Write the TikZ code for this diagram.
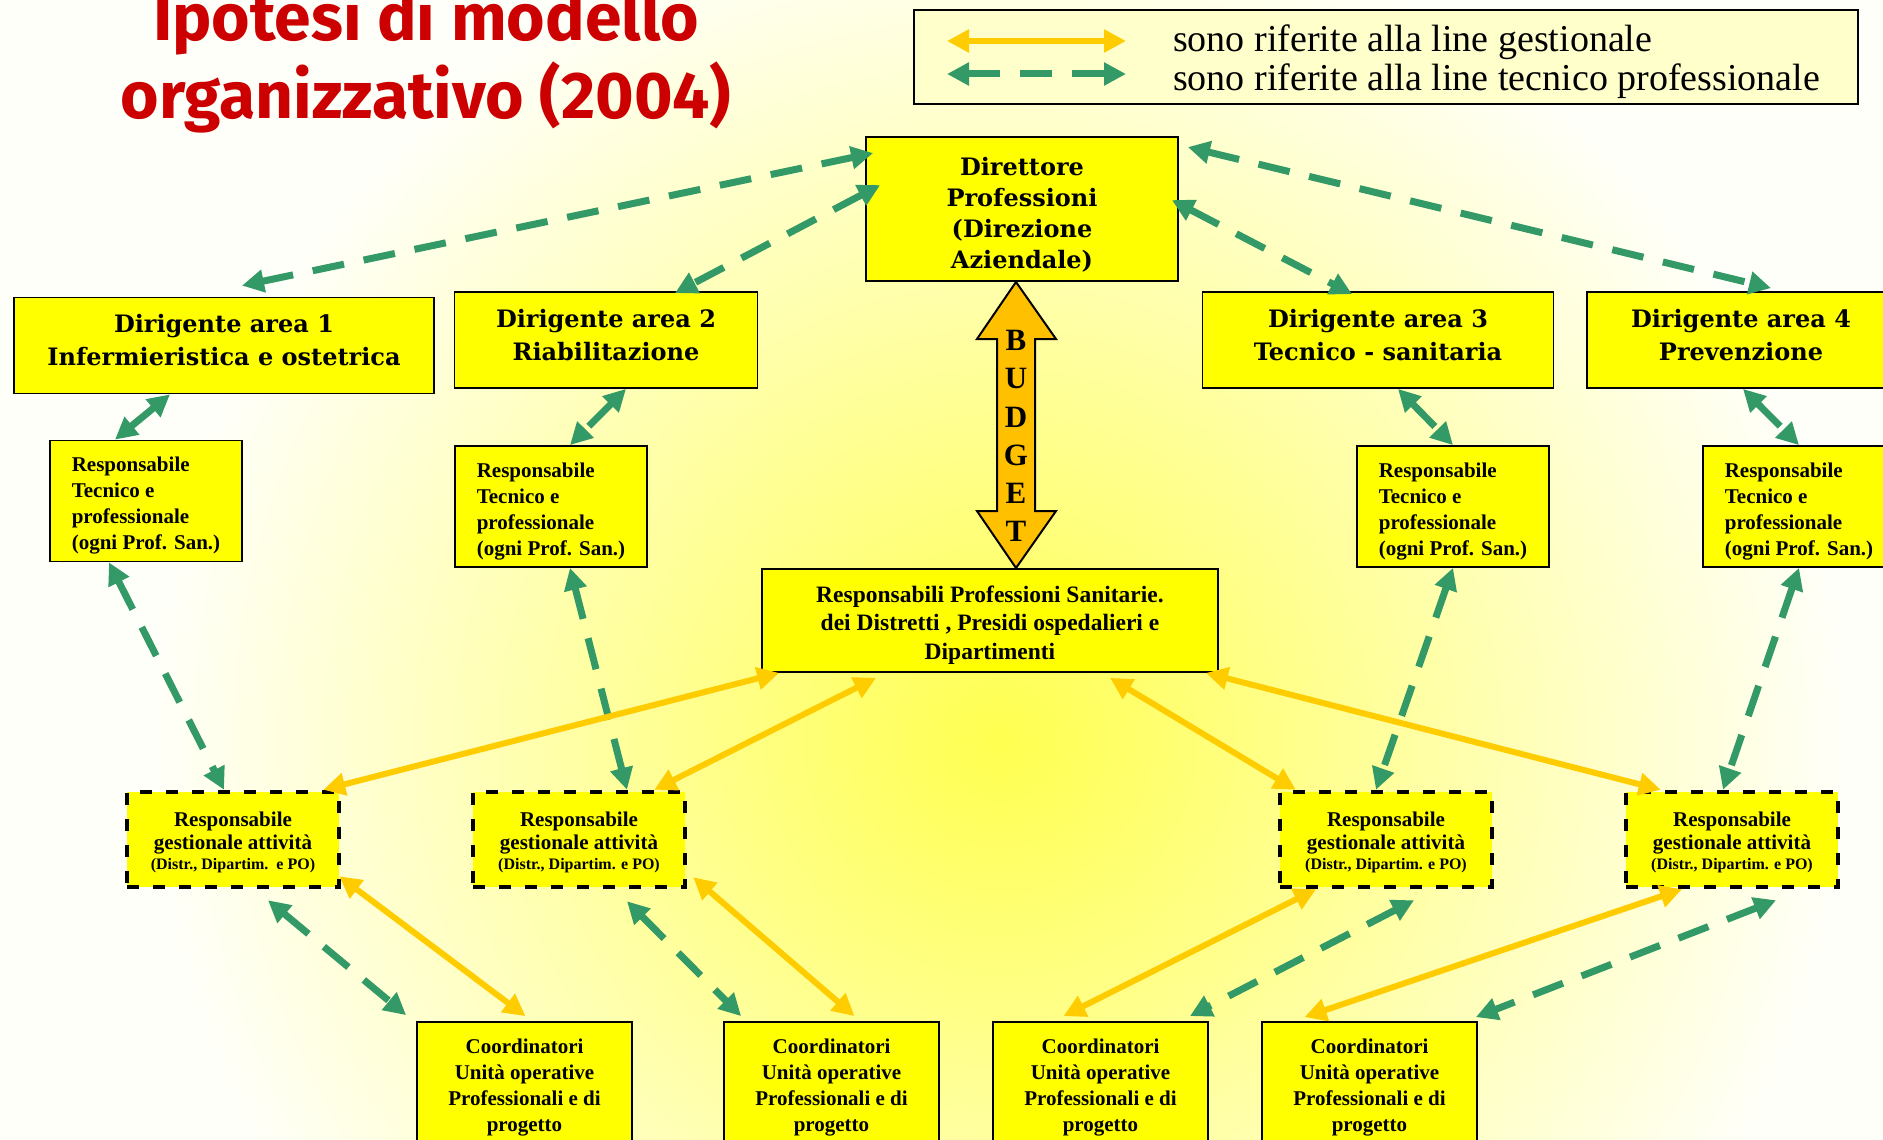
\documentclass[tikz,border=0pt]{standalone}
\usepackage{fontspec}
\setmainfont{Liberation Serif}
\newfontfamily\headfont{DejaVu Serif}
\newfontfamily\titlefont{Fira Sans}
\usetikzlibrary{arrows.meta,positioning}
\definecolor{boxyellow}{HTML}{FFFF00}
\definecolor{gestgold}{HTML}{FFCC00}
\definecolor{tecgreen}{HTML}{339966}
\definecolor{budgetorange}{HTML}{FFC000}
\definecolor{titlered}{HTML}{CC0000}
\definecolor{legendcream}{HTML}{FFFFCC}
\definecolor{bgcore}{HTML}{FFFF50}
\definecolor{bgpale}{HTML}{FFFFFA}
\tikzset{
  titletext/.style = {text=titlered, inner sep=0pt, font=\titlefont\bfseries\fontsize{66}{77}\selectfont},
  legendbox/.style = {draw, line width=2pt, fill=legendcream, minimum width=944pt, minimum height=94pt},
  legendtext/.style = {inner sep=0pt, font=\fontsize{38}{38}\selectfont},
  yellowbox/.style = {draw, line width=1.8pt, fill=boxyellow, align=center, inner sep=0pt, text depth=0pt},
  dirbox/.style = {yellowbox, text height=118pt, font=\headfont\bfseries\fontsize{24}{31}\selectfont},
  areabox/.style = {yellowbox, minimum height=96pt, text height=40pt, font=\headfont\bfseries\fontsize{24}{33}\selectfont},
  tecbox/.style = {yellowbox, align=left, minimum width=192pt, minimum height=121pt, text height=97pt, font=\bfseries\fontsize{21}{26}\selectfont},
  rpsbox/.style = {yellowbox, minimum width=456pt, minimum height=103pt, text height=77pt, font=\bfseries\fontsize{23.5}{28.5}\selectfont},
  gestbox/.style = {yellowbox, line width=4.5pt, dash pattern=on 12pt off 14pt, minimum width=212pt, minimum height=95pt, text height=59pt, font=\bfseries\fontsize{21}{23}\selectfont},
  coordbox/.style = {yellowbox, minimum width=215pt, minimum height=132pt, text height=86pt, font=\bfseries\fontsize{21}{26}\selectfont},
  budgetarrow/.style = {draw, line width=2pt, fill=budgetorange, line join=miter},
  gest/.style = {draw=gestgold, line width=6pt, <->, >={Triangle[length=22pt, width=22pt]}},
  tecn/.style = {draw=tecgreen, line width=7pt, dash pattern=on 32pt off 20pt, <->, >={Triangle[length=22pt, width=22pt]}}
}

\begin{document}
\begin{tikzpicture}[x=1pt, y=-1pt]
  \useasboundingbox (0,0) rectangle (1883,1140);
  \fill[bgpale] (0,0) rectangle (1883,1140);
  \begin{scope}
    \clip (0,0) rectangle (1883,1140);
    \shade[inner color=bgcore, outer color=bgpale] (1000,740) circle[radius=850pt];
  \end{scope}

  % title
  \node[titletext, anchor=base] (title1) at (426,41) {Ipotesi di modello};
  \node[titletext, anchor=base] (title2) at (426,118) {organizzativo (2004)};

  % legend
  \node[legendbox] (legend) at (1386,57) {};
  \coordinate (ga) at (947,41);
  \coordinate (gb) at (1126,41);
  \coordinate (ta) at (947,74);
  \coordinate (tb) at (1126,74);
  \draw[gest] (ga) -- (gb);
  \draw[tecn] (ta) -- (tb);
  \node[legendtext, anchor=base west] (lg1) at (1173,52) {sono riferite alla line gestionale};
  \node[legendtext, anchor=base west] (lg2) at (1173,90) {sono riferite alla line tecnico professionale};

  % boxes
  \node[dirbox, minimum width=312pt, minimum height=144pt] (dir) at (1022,209) {Direttore\\Professioni\\(Direzione\\Aziendale)};
  \node[areabox, minimum width=420pt] (d1) at (224,345.5) {Dirigente area 1\\Infermieristica e ostetrica};
  \node[areabox, minimum width=303pt] (d2) at (606,340) {Dirigente area 2\\Riabilitazione};
  \node[areabox, minimum width=351pt] (d3) at (1378,340) {Dirigente area 3\\Tecnico - sanitaria};
  \node[areabox, minimum width=308pt] (d4) at (1741,340) {Dirigente area 4\\Prevenzione};

  \node[tecbox] (rt1) at (146,501) {Responsabile\\Tecnico e\\professionale\\(ogni Prof. San.)};
  \node[tecbox] (rt2) at (551,506.5) {Responsabile\\Tecnico e\\professionale\\(ogni Prof. San.)};
  \node[tecbox] (rt3) at (1453,506.5) {Responsabile\\Tecnico e\\professionale\\(ogni Prof. San.)};
  \node[tecbox] (rt4) at (1799,506.5) {Responsabile\\Tecnico e\\professionale\\(ogni Prof. San.)};

  \node[rpsbox] (rps) at (990,620.5) {Responsabili Professioni Sanitarie.\\dei Distretti , Presidi ospedalieri e\\Dipartimenti};

  \draw[budgetarrow] (1016,282) -- (1056,339) -- (1035,339) -- (1035,511) -- (1056,511) -- (1016,568)
    -- (977,511) -- (997,511) -- (997,339) -- (977,339) -- cycle;
  \node[align=center, inner sep=0pt, font=\bfseries\fontsize{31}{38.3}\selectfont] (budget) at (1016,436) {B\\U\\D\\G\\E\\T};

  \node[gestbox] (rg1) at (233,839.5) {Responsabile\\gestionale attività\\[-3pt]{\fontsize{16}{21}\selectfont(Distr., Dipartim.\ \ e PO)}};
  \node[gestbox] (rg2) at (579,839.5) {Responsabile\\gestionale attività\\[-3pt]{\fontsize{16}{21}\selectfont(Distr., Dipartim. e PO)}};
  \node[gestbox] (rg3) at (1386,839.5) {Responsabile\\gestionale attività\\[-3pt]{\fontsize{16}{21}\selectfont(Distr., Dipartim. e PO)}};
  \node[gestbox] (rg4) at (1732,839.5) {Responsabile\\gestionale attività\\[-3pt]{\fontsize{16}{21}\selectfont(Distr., Dipartim. e PO)}};

  \node[coordbox] (c1) at (524.5,1088) {Coordinatori\\Unità operative\\Professionali e di\\progetto};
  \node[coordbox] (c2) at (831.5,1088) {Coordinatori\\Unità operative\\Professionali e di\\progetto};
  \node[coordbox] (c3) at (1100.5,1088) {Coordinatori\\Unità operative\\Professionali e di\\progetto};
  \node[coordbox] (c4) at (1369.5,1088) {Coordinatori\\Unità operative\\Professionali e di\\progetto};

  % line tecnico professionale
  \draw[tecn] ([xshift=8pt,yshift=-17pt]dir.north west) -- ([xshift=18pt,yshift=11pt]d1.north);
  \draw[tecn] ([xshift=15pt,yshift=-49pt]dir.north west) -- ([xshift=69pt,yshift=-2pt]d2.north);
  \draw[tecn] ([xshift=-7pt,yshift=-64pt]dir.north east) -- ([xshift=-26pt,yshift=-3pt]d3.north);
  \draw[tecn] ([xshift=9pt,yshift=-11pt]dir.north east) -- ([xshift=30pt,yshift=3pt]d4.north);
  \draw[tecn] ([xshift=-54pt]d1.south) -- ([xshift=-31pt]rt1.north);
  \draw[tecn] ([xshift=20pt]d2.south) -- ([xshift=19pt]rt2.north);
  \draw[tecn] ([xshift=20pt]d3.south) -- (rt3.north);
  \draw[tecn] ([xshift=2pt]d4.south) -- (rt4.north);
  \draw[tecn] ([xshift=-37pt]rt1.south) -- ([xshift=-9pt]rg1.north);
  \draw[tecn] ([xshift=19pt]rt2.south) -- ([xshift=48pt]rg2.north);
  \draw[tecn] (rt3.south) -- ([xshift=-10pt]rg3.north);
  \draw[tecn] (rt4.south) -- ([xshift=-9pt]rg4.north);
  \draw[tecn] ([xshift=35pt,yshift=-11pt]rg1.south) -- ([xshift=-10pt,yshift=6pt]c1.north west);
  \draw[tecn] ([xshift=48pt,yshift=-12pt]rg2.south) -- ([xshift=18pt,yshift=5pt]c2.north west);
  \draw[tecn] ([xshift=28pt,yshift=-11pt]rg3.south) -- ([xshift=-19pt,yshift=5pt]c3.north east);
  \draw[tecn] ([xshift=44pt,yshift=-11pt]rg4.south) -- ([xshift=-2pt,yshift=4pt]c4.north east);

  % line gestionale
  \draw[gest] ([xshift=18pt]rps.south west) -- ([xshift=-18pt]rg1.north east);
  \draw[gest] ([xshift=-114pt,yshift=-5pt]rps.south) -- ([xshift=-33pt]rg2.north east);
  \draw[gest] ([xshift=120pt,yshift=-5pt]rps.south) -- ([xshift=18pt]rg3.north west);
  \draw[gest] ([xshift=-13pt]rps.south east) -- ([xshift=37pt]rg4.north west);
  \draw[gest] ([xshift=-2pt,yshift=13pt]rg1.south east) -- ([xshift=1pt,yshift=5pt]c1.north);
  \draw[gest] ([xshift=6pt,yshift=12pt]rg2.south east) -- ([xshift=23pt,yshift=5pt]c2.north);
  \draw[gest] ([xshift=-70pt]rg3.south) -- ([xshift=-37pt,yshift=5pt]c3.north);
  \draw[gest] ([xshift=-50pt]rg4.south) -- ([xshift=-65pt,yshift=4pt]c4.north);
\end{tikzpicture}
\end{document}
